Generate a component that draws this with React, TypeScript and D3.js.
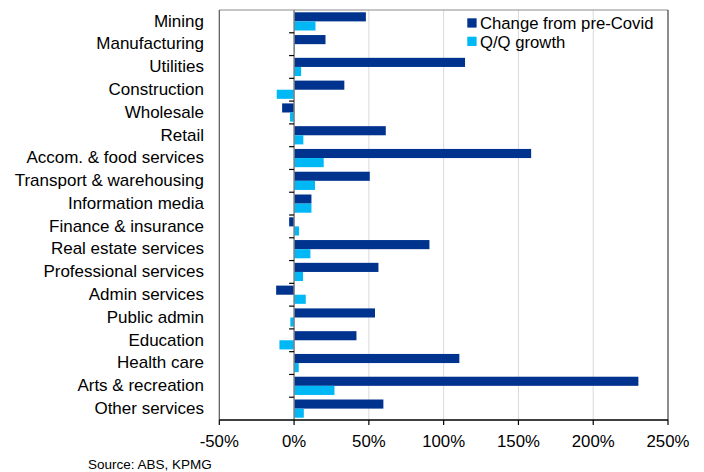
import React from "react";
import * as d3 from "d3";

const categories = [
  "Mining",
  "Manufacturing",
  "Utilities",
  "Construction",
  "Wholesale",
  "Retail",
  "Accom. & food services",
  "Transport & warehousing",
  "Information media",
  "Finance & insurance",
  "Real estate services",
  "Professional services",
  "Admin services",
  "Public admin",
  "Education",
  "Health care",
  "Arts & recreation",
  "Other services",
];

const changeFromPreCovid = [48, 21, 114.3, 33.6, -8, 61.3, 158.5, 50.6, 11.6, -3.3, 90.5, 56.4, -12, 54.1, 41.7, 110.5, 230.2, 59.7];
const qqGrowth = [14.3, 0.5, 4.7, -11.6, -2.7, 6.2, 19.8, 14, 11.6, 3.3, 10.9, 6, 7.8, -2.5, -9.8, 3.1, 27, 6.5];
const xTicks = [-50, 0, 50, 100, 150, 200, 250];
const seriesNames = ["Change from pre-Covid", "Q/Q growth"];
const colors = ["#00338D", "#00B8F5"];

const W = 704;
const H = 472;
const left = 219.3;
const right = 668;
const top = 10;
const bottom = 420;
const font = "Arial, 'Liberation Sans', sans-serif";

export default function App() {
  const x = d3.scaleLinear().domain([-50, 250]).range([left, right]);
  const y = d3
    .scaleBand<string>()
    .domain(categories)
    .range([top, bottom])
    .paddingInner(0.2)
    .paddingOuter(0.1);
  const sub = d3.scaleBand<number>().domain([0, 1]).range([0, y.bandwidth()]);
  const step = y.step();
  const x0 = x(0);

  return (
    <svg
      width={W}
      height={H}
      style={{ position: "absolute", left: 0, top: 0, background: "#fff" }}
      fontFamily={font}
    >
      <rect x={0} y={0} width={W} height={H} fill="#fff" />
      {/* gridlines */}
      {xTicks
        .filter((t) => t !== 0 && t !== -50 && t !== 250)
        .map((t) => (
          <line key={"g" + t} x1={x(t)} x2={x(t)} y1={top} y2={bottom} stroke="#d9d9d9" strokeWidth={1} />
        ))}
      {/* plot border */}
      <line x1={left} x2={right} y1={top} y2={top} stroke="#8c8c8c" strokeWidth={1.2} />
      <line x1={right} x2={right} y1={top} y2={bottom} stroke="#404040" strokeWidth={1.2} />
      <line x1={left} x2={left} y1={top} y2={bottom} stroke="#555" strokeWidth={1.2} />
      {/* bars */}
      {categories.map((c, i) => {
        const vals = [changeFromPreCovid[i], qqGrowth[i]];
        return vals.map((v, j) => (
          <rect
            key={c + j}
            x={Math.min(x(v), x0)}
            width={Math.abs(x(v) - x0)}
            y={(y(c) as number) + (sub(j) as number)}
            height={sub.bandwidth()}
            fill={colors[j]}
          />
        ));
      })}
      {/* zero line and category ticks */}
      <line x1={x0} x2={x0} y1={top} y2={bottom} stroke="#808080" strokeWidth={1.5} />
      {categories.slice(1).map((c, i) => {
        const yy = top + (i + 1) * step;
        return <line key={"t" + c} x1={x0 - 5} x2={x0} y1={yy} y2={yy} stroke="#000" strokeWidth={1.2} />;
      })}
      {/* category labels */}
      {categories.map((c) => (
        <text
          key={"l" + c}
          x={204}
          y={(y(c) as number) + y.bandwidth() / 2 + 5.3}
          textAnchor="end"
          fontSize={17}
          fill="#000"
        >
          {c}
        </text>
      ))}
      {/* x axis */}
      <line x1={left} x2={right} y1={bottom} y2={bottom} stroke="#000" strokeWidth={1.5} />
      {xTicks.map((t) => (
        <g key={"x" + t}>
          <line x1={x(t)} x2={x(t)} y1={bottom} y2={bottom + 5} stroke="#000" strokeWidth={1.2} />
          <text x={x(t)} y={446.5} textAnchor="middle" fontSize={16.8} fill="#000">
            {t + "%"}
          </text>
        </g>
      ))}
      {/* legend */}
      {seriesNames.map((s, j) => (
        <g key={"lg" + s}>
          <rect x={467.3} y={18.3 + j * 18.4} width={9.3} height={9.3} fill={colors[j]} />
          <text x={480} y={29.2 + j * 18.4} fontSize={16.7} fill="#000">
            {s}
          </text>
        </g>
      ))}
      <text x={88} y={468.5} fontSize={13.5} fill="#000">
        Source: ABS, KPMG
      </text>
    </svg>
  );
}
